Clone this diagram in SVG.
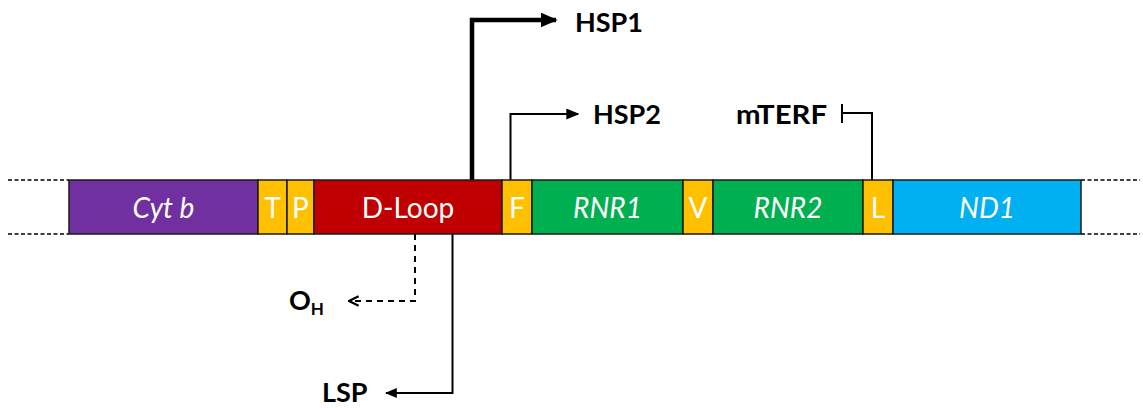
<svg xmlns="http://www.w3.org/2000/svg" width="1143" height="408" viewBox="0 0 1143 408">
  <defs>
    <style>
      .seg { stroke: #1a1a1a; stroke-width: 1.5; }
      .lbl { font-family: Lato, "Open Sans", "Liberation Sans", sans-serif; font-size: 28px; fill: #ffffff; text-anchor: middle; dominant-baseline: central; }
      .it { font-style: italic; }
      .ext { stroke: #000; stroke-width: 1.3; stroke-dasharray: 4 2.5; fill: none; }
      .wire { stroke: #000; fill: none; stroke-width: 2; }
      .thick { stroke-width: 4.5; }
      .name { font-family: Lato, "Open Sans", "Liberation Sans", sans-serif; font-size: 27px; font-weight: bold; fill: #000; }
    </style>
    <marker id="headFilled" viewBox="0 0 10 10" refX="9" refY="5" markerWidth="12" markerHeight="10" markerUnits="userSpaceOnUse" orient="auto" preserveAspectRatio="none">
      <path d="M0,0 L10,5 L0,10 Z" fill="#000"/>
    </marker>
    <marker id="headBig" viewBox="0 0 10 10" refX="9" refY="5" markerWidth="17" markerHeight="15" markerUnits="userSpaceOnUse" orient="auto" preserveAspectRatio="none">
      <path d="M0,0 L10,5 L0,10 Z" fill="#000"/>
    </marker>
    <marker id="headMid" viewBox="0 0 10 10" refX="9" refY="5" markerWidth="13" markerHeight="11" markerUnits="userSpaceOnUse" orient="auto" preserveAspectRatio="none">
      <path d="M0,0 L10,5 L0,10 Z" fill="#000"/>
    </marker>
    <marker id="headOpen" viewBox="0 0 10 10" refX="9" refY="5" markerWidth="12" markerHeight="12" markerUnits="userSpaceOnUse" orient="auto">
      <path d="M1,1 L9,5 L1,9" fill="none" stroke="#000" stroke-width="1.8"/>
    </marker>
  </defs>

  <!-- continuation of the circular genome -->
  <g id="extensions">
    <line class="ext" x1="8" y1="180" x2="69" y2="180"/>
    <line class="ext" x1="8" y1="234" x2="69" y2="234"/>
    <line class="ext" x1="1081" y1="180" x2="1140" y2="180"/>
    <line class="ext" x1="1081" y1="234" x2="1140" y2="234"/>
  </g>

  <!-- connectors -->
  <g id="connectors">
    <polyline class="wire thick" points="472,180 472,20 556,20" marker-end="url(#headBig)"/>
    <polyline class="wire" points="510.5,180 510.5,114 578,114" marker-end="url(#headMid)"/>
    <polyline class="wire" points="872,180 872,113 842,113"/>
    <line class="wire" x1="842" y1="104" x2="842" y2="123"/>
    <polyline class="wire" stroke-dasharray="6 5" points="415,234 415,301 349,301" marker-end="url(#headOpen)"/>
    <polyline class="wire" points="452.5,234 452.5,393 386,393" marker-end="url(#headFilled)"/>
  </g>

  <g id="cytb"><rect class="seg" x="69" y="180" width="189" height="54" fill="#7030A0"/><text class="lbl it" x="163.5" y="207">Cyt b</text></g>
  <g id="trnT"><rect class="seg" x="258" y="180" width="29" height="54" fill="#FFC000"/><text class="lbl" x="272.5" y="207">T</text></g>
  <g id="trnP"><rect class="seg" x="287" y="180" width="27" height="54" fill="#FFC000"/><text class="lbl" x="300.5" y="207">P</text></g>
  <g id="dloop"><rect class="seg" x="314" y="180" width="188" height="54" fill="#C00000"/><text class="lbl" x="408" y="207">D-Loop</text></g>
  <g id="trnF"><rect class="seg" x="502" y="180" width="30" height="54" fill="#FFC000"/><text class="lbl" x="517" y="207">F</text></g>
  <g id="rnr1"><rect class="seg" x="532" y="180" width="151" height="54" fill="#00B050"/><text class="lbl it" x="607.5" y="207">RNR1</text></g>
  <g id="trnV"><rect class="seg" x="683" y="180" width="30" height="54" fill="#FFC000"/><text class="lbl" x="698" y="207">V</text></g>
  <g id="rnr2"><rect class="seg" x="713" y="180" width="150" height="54" fill="#00B050"/><text class="lbl it" x="788" y="207">RNR2</text></g>
  <g id="trnL"><rect class="seg" x="863" y="180" width="30" height="54" fill="#FFC000"/><text class="lbl" x="878" y="207">L</text></g>
  <g id="nd1"><rect class="seg" x="893" y="180" width="188" height="54" fill="#00B0F0"/><text class="lbl it" x="987" y="207">ND1</text></g>

  <g id="hsp1"><text class="name" x="575" y="32">HSP1</text></g>
  <g id="hsp2"><text class="name" x="593" y="124">HSP2</text></g>
  <g id="mterf"><text class="name" x="736" y="124" textLength="91" lengthAdjust="spacingAndGlyphs">mTERF</text></g>
  <g id="oh"><text class="name" x="289" y="310">O<tspan font-size="17" dy="5">H</tspan></text></g>
  <g id="lsp"><text class="name" x="322" y="402">LSP</text></g>
</svg>
